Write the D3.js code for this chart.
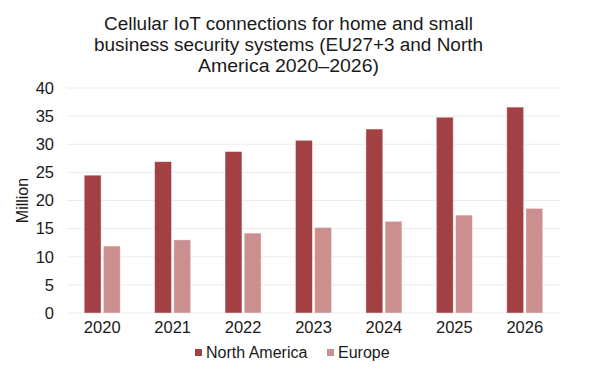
<!DOCTYPE html>
<html><head><meta charset="utf-8">
<script src="https://cdn.jsdelivr.net/npm/d3@7"></script>
<style>
html,body{margin:0;padding:0;background:#fff;}
text{font-family:"Liberation Sans",Arial,sans-serif;fill:#1a1a1a;}
</style></head>
<body><svg id="c" width="600" height="376"></svg>
<script>
const years = ["2020","2021","2022","2023","2024","2025","2026"];
const northAmerica = [24.5, 26.9, 28.7, 30.7, 32.7, 34.8, 36.6];
const europe = [11.9, 13.0, 14.2, 15.2, 16.3, 17.4, 18.6];
const seriesNames = ["North America","Europe"];
const seriesColors = ["#a34043","#cc8f8f"];
const yTicks = [0,5,10,15,20,25,30,35,40];
const titleLines = ["Cellular IoT connections for home and small","business security systems (EU27+3 and North","America 2020\u20132026)"];

const svg = d3.select("#c");
const m = {left:67, right:40, top:88, bottom:63};
const W = 600, H = 376;
const x = d3.scaleBand().domain(years).range([m.left, W-m.right]).padding(0);
const y = d3.scaleLinear().domain([0,40]).range([H-m.bottom, m.top]);

// title
const titleWidths = [369, 389, 181];
svg.append("text").attr("text-anchor","middle").attr("font-size",18)
  .selectAll("tspan").data(titleLines).join("tspan")
  .attr("x",288.5).attr("y",(d,i)=>30+i*21)
  .attr("textLength",(d,i)=>titleWidths[i]).attr("lengthAdjust","spacingAndGlyphs")
  .text(d=>d);

// gridlines
svg.append("g").selectAll("line").data(yTicks).join("line")
  .attr("x1",m.left).attr("x2",W-m.right)
  .attr("y1",d=>y(d)).attr("y2",d=>y(d))
  .attr("stroke","#ececec").attr("stroke-width",1);

// y axis
const ya = svg.append("g").attr("transform",`translate(${m.left},0)`)
  .call(d3.axisLeft(y).tickValues(yTicks).tickSize(0).tickPadding(13));
ya.select(".domain").remove();
ya.selectAll("text").attr("font-size",16.5).attr("font-family","Liberation Sans, Arial, sans-serif").attr("fill","#1a1a1a");

// x axis
const xa = svg.append("g").attr("transform",`translate(0,${H-m.bottom})`)
  .call(d3.axisBottom(x).tickSize(0).tickPadding(8));
xa.select(".domain").remove();
xa.selectAll("text").attr("font-size",16.5).attr("font-family","Liberation Sans, Arial, sans-serif").attr("fill","#1a1a1a");

// y title
svg.append("text").attr("transform",`translate(28,${(y(0)+y(40))/2}) rotate(-90)`)
  .attr("text-anchor","middle").attr("font-size",16).text("Million");

// bars
const inner = d3.scaleBand().domain(seriesNames).range([0,36]).paddingInner(0.12);
const data = years.map((yr,i)=>({yr, vals:[northAmerica[i], europe[i]]}));
const g = svg.append("g").selectAll("g").data(data).join("g")
  .attr("transform",d=>`translate(${x(d.yr)+x.bandwidth()/2-18},0)`);
g.selectAll("rect").data(d=>d.vals.map((v,j)=>({v,s:seriesNames[j],c:seriesColors[j]}))).join("rect")
  .attr("x",d=>inner(d.s)).attr("width",inner.bandwidth())
  .attr("y",d=>y(d.v)).attr("height",d=>y(0)-y(d.v))
  .attr("fill",d=>d.c).attr("stroke","#fff").attr("stroke-opacity",0.5).attr("stroke-width",0.8);

// legend
const leg = svg.append("g");
const legX = [195, 327];
seriesNames.forEach((s,i)=>{
  leg.append("rect").attr("x",legX[i]).attr("y",349).attr("width",7).attr("height",7).attr("fill",seriesColors[i]);
  leg.append("text").attr("x",legX[i]+11).attr("y",357.5).attr("font-size",16).text(s);
});
</script></body></html>
